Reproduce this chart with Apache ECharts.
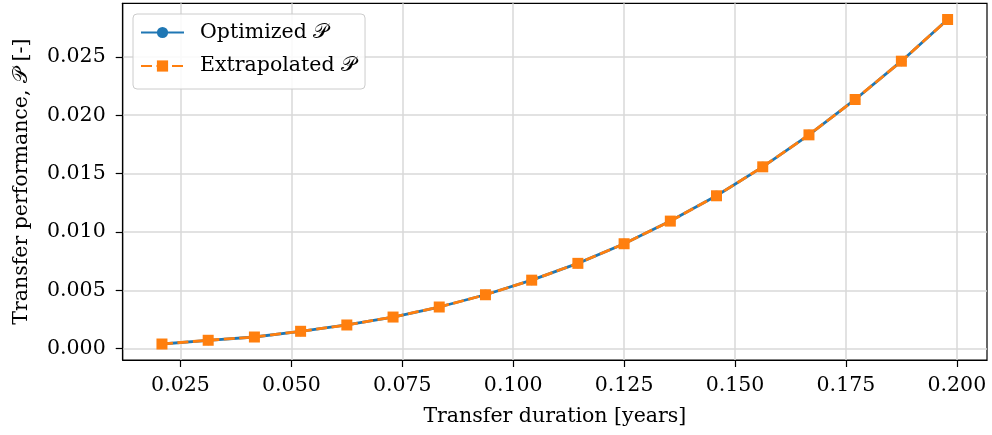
<!DOCTYPE html>
<html>
<head>
<meta charset="utf-8">
<script src="https://cdn.jsdelivr.net/npm/echarts@6/dist/echarts.min.js"></script>
<style>html,body{margin:0;padding:0;background:#fff;}#c{width:992px;height:435px;}</style>
</head>
<body>
<div id="c"></div>
<script>
const durations = [0.02083, 0.03125, 0.04167, 0.05208, 0.0625, 0.07292, 0.08333, 0.09375, 0.10417, 0.11458, 0.125, 0.13542, 0.14583, 0.15625, 0.16667, 0.17708, 0.1875, 0.19792];
const optimizedP = [0.00040, 0.00072, 0.00100, 0.00149, 0.00203, 0.00271, 0.00357, 0.00462, 0.00587, 0.00731, 0.00899, 0.01093, 0.01310, 0.01558, 0.01832, 0.02135, 0.02463, 0.02820];
const extrapolatedP = [0.00040, 0.00072, 0.00100, 0.00149, 0.00203, 0.00271, 0.00357, 0.00462, 0.00587, 0.00731, 0.00899, 0.01093, 0.01310, 0.01558, 0.01832, 0.02135, 0.02463, 0.02820];
const xTicks = [0.025, 0.050, 0.075, 0.100, 0.125, 0.150, 0.175, 0.200];
const yTicks = [0.000, 0.005, 0.010, 0.015, 0.020, 0.025];
const seriesNames = ['Optimized \u{1D4AB}', 'Extrapolated \u{1D4AB}'];

const FONT = 'DejaVu Serif';
const FS = 20.5;
const chart = echarts.init(document.getElementById('c'), null, {renderer: 'canvas'});
const pair = (xs, ys) => xs.map((x, i) => [x, ys[i]]);

chart.setOption({
  animation: false,
  backgroundColor: '#fff',
  textStyle: {fontFamily: FONT, color: '#000'},
  grid: {left: 122.7, right: 5, top: 3.3, bottom: 75, show: true, borderColor: '#000', borderWidth: 1.2, backgroundColor: 'transparent'},
  legend: {
    left: 133, top: 14, orient: 'vertical',
    itemWidth: 43, itemHeight: 14, itemGap: 12.5,
    padding: [8, 9, 12.5, 7],
    borderColor: '#cccccc', borderWidth: 1, borderRadius: 4,
    backgroundColor: 'rgba(255,255,255,0.85)',
    textStyle: {fontFamily: FONT, fontSize: FS, color: '#000', padding: [0,0,0,11]},
    data: seriesNames
  },
  xAxis: {
    type: 'value', min: 0.01198, max: 0.2068,
    name: 'Transfer duration [years]', nameLocation: 'middle', nameGap: 46,
    nameTextStyle: {fontFamily: FONT, fontSize: FS, color: '#000'},
    axisLine: {show: true, onZero: false, lineStyle: {color: '#000', width: 1.2}},
    axisTick: {show: true, length: 7, customValues: xTicks, lineStyle: {color: '#000', width: 1.2}},
    axisLabel: {customValues: xTicks, margin: 15, fontFamily: FONT, fontSize: FS, color: '#000', formatter: v => v.toFixed(3)},
    splitLine: {show: true, lineStyle: {color: '#d8d8d8', width: 1.5}}
  },
  yAxis: {
    type: 'value', min: -0.00097, max: 0.02959,
    name: 'Transfer performance, \u{1D4AB} [-]', nameLocation: 'middle', nameGap: 91,
    nameTextStyle: {fontFamily: FONT, fontSize: FS, color: '#000'},
    axisLine: {show: true, onZero: false, lineStyle: {color: '#000', width: 1.2}},
    axisTick: {show: true, length: 7, customValues: yTicks, lineStyle: {color: '#000', width: 1.2}},
    axisLabel: {customValues: yTicks, margin: 17, fontFamily: FONT, fontSize: FS, color: '#000', formatter: v => v.toFixed(3)},
    splitLine: {show: true, lineStyle: {color: '#d8d8d8', width: 1.5}}
  },
  series: [
    {
      name: seriesNames[0], type: 'line', data: pair(durations, optimizedP),
      symbol: 'circle', symbolSize: 10, showAllSymbol: true,
      lineStyle: {color: '#1f77b4', width: 2.8},
      itemStyle: {color: '#1f77b4'}, z: 2
    },
    {
      name: seriesNames[1], type: 'line', data: pair(durations, extrapolatedP),
      symbol: 'rect', symbolSize: 11, showAllSymbol: true,
      lineStyle: {color: '#ff7f0e', width: 2.8, type: [11, 4.5]},
      itemStyle: {color: '#ff7f0e'}, z: 3
    }
  ]
});
</script>
</body>
</html>
